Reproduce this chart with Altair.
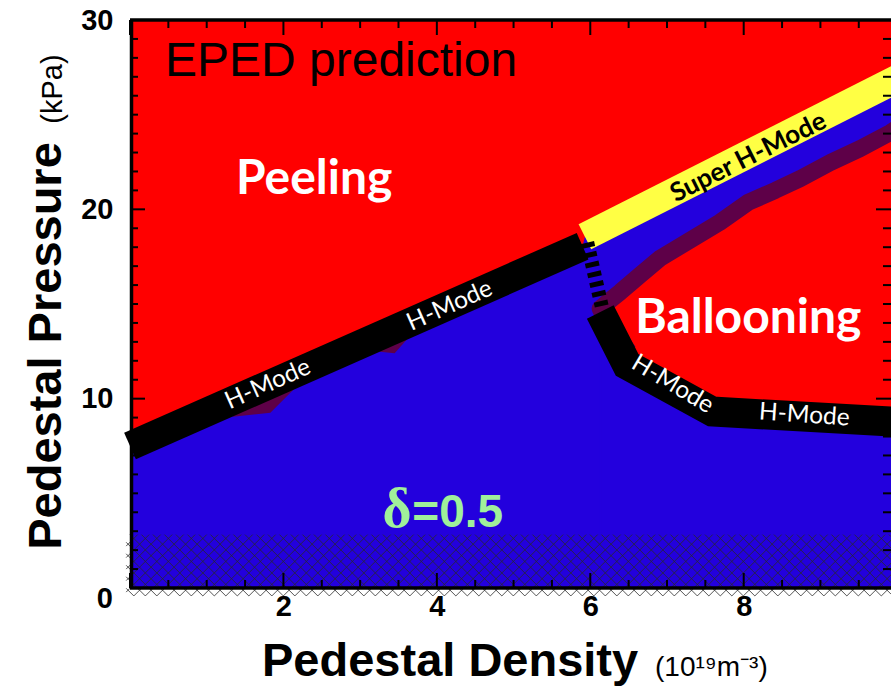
import altair as alt
import pandas as pd
import numpy as np

# ---------------- data ----------------
# left H-mode boundary (peeling limit), density vs pressure
hm_left_x = [0.0, 5.9]
hm_left_y = [7.5, 18.05]
# Super H-mode band
super_x = [5.93, 10.2]
super_y = [18.55, 27.3]
# right H-mode boundary (ballooning limit)
hm_right_x = [6.13, 6.48, 7.59, 9.92, 10.2]
hm_right_y = [14.58, 11.79, 9.32, 8.79, 8.73]
# dashed connection
dash_x = [5.96, 6.15]
dash_y = [18.24, 14.86]
# ballooning boundary (dark purple band)
purple_x = [6.50, 6.21, 6.13, 6.26, 6.39, 6.65, 6.91, 7.30, 7.69, 8.06, 8.41, 8.74, 9.13, 9.52, 9.91, 10.2]
purple_y = [12.49, 14.07, 14.75, 15.21, 15.63, 16.53, 17.42, 18.37, 19.32, 20.37, 21.0, 21.63, 22.47, 23.21, 24.05, 24.8]
# small purple bumps under left H-mode line
bump_g = ["a", "a", "a", "b", "b", "b"]
bump_x = [1.34, 1.83, 2.13, 3.26, 3.45, 3.60]
bump_lo = [9.05, 9.26, 10.47, 12.48, 12.40, 13.09]
bump_hi = [9.9, 10.8, 11.3, 13.3, 13.7, 13.9]
# hatched low-pressure band
hatch_lo, hatch_hi = -0.42, 2.82

# axis ticks / labels
x_major = [0, 2, 4, 6, 8]
x_labels = [2, 4, 6, 8]
x_minor = [0.5, 1, 1.5, 2.5, 3, 3.5, 4.5, 5, 5.5, 6.5, 7, 7.5, 8.5, 9, 9.5]
y_major = [0, 10, 20, 30]
y_labels = [10, 20, 30]
y_minor = [v for v in range(1, 30) if v % 10 != 0]

# text labels
hm_text = ["H-Mode", "H-Mode", "H-Mode", "H-Mode"]
hm_tx = [1.80, 4.17, 7.07, 8.79]
hm_ty = [10.74, 14.89, 10.74, 9.11]
hm_ang = [336, 336, 31, 4]

# ---------------- geometry / styles ----------------
W, H = 761, 568
XMAX = 9.92
kx, ky = W / XMAX, H / 30.0
RED, BLUE, PURPLE, YELLOW = "#FF0000", "#2300DD", "#5E0048", "#FFFF44"

xs = alt.Scale(domain=[0, XMAX], nice=False, zero=False)
ys = alt.Scale(domain=[0, 30], nice=False, zero=False)
xaxis = alt.Axis(values=x_labels, ticks=False, domain=False, grid=False, title=None,
                 labelFont="Liberation Sans", labelFontWeight="bold", labelFontSize=29,
                 labelColor="black", labelPadding=4)
yaxis = alt.Axis(values=y_labels, ticks=False, domain=False, grid=False, title=None,
                 labelFont="Liberation Sans", labelFontWeight="bold", labelFontSize=29,
                 labelColor="black", labelPadding=17)


def X(f, **kw):
    return alt.X(f, type="quantitative", scale=xs, axis=xaxis, **kw)


def Y(f, **kw):
    return alt.Y(f, type="quantitative", scale=ys, axis=yaxis, **kw)


def df_line(xv, yv):
    return pd.DataFrame({"x": xv, "y": yv, "i": range(len(xv)), "z": [0.0] * len(xv)})


layers = []

# blue stable region under the H-mode / super H-mode boundary
blue_a = df_line(hm_left_x + super_x, hm_left_y + super_y)
layers.append(alt.Chart(blue_a).mark_area(color=BLUE, clip=True, opacity=1).encode(
    x=X("x"), y=Y("y"), y2="z"))
# red ballooning region
layers.append(alt.Chart(df_line(purple_x[2:], purple_y[2:])).mark_area(
    color=RED, clip=True, opacity=1).encode(x=X("x"), y=Y("y"), y2="z"))
# blue region under right H-mode line
layers.append(alt.Chart(df_line(hm_right_x, hm_right_y)).mark_area(
    color=BLUE, stroke=BLUE, strokeWidth=2, clip=True, opacity=1).encode(
    x=X("x"), y=Y("y"), y2="z"))
# purple bumps
bumps = pd.DataFrame({"g": bump_g, "x": bump_x, "lo": bump_lo, "hi": bump_hi})
layers.append(alt.Chart(bumps).mark_area(color=PURPLE, opacity=1).encode(
    x=X("x"), y=Y("lo"), y2="hi", detail="g:N"))
# purple ballooning boundary band
layers.append(alt.Chart(df_line(purple_x, purple_y)).mark_line(
    color=PURPLE, strokeWidth=17, strokeJoin="round", clip=True).encode(
    x=X("x"), y=Y("y"), order="i:Q"))
# super H-mode yellow band
layers.append(alt.Chart(df_line(super_x, super_y)).mark_line(
    color=YELLOW, strokeWidth=28, strokeCap="butt", clip=True).encode(
    x=X("x"), y=Y("y"), order="i:Q"))
# H-mode black bands
layers.append(alt.Chart(df_line(hm_left_x, hm_left_y)).mark_line(
    color="black", strokeWidth=29, strokeCap="butt").encode(
    x=X("x"), y=Y("y"), order="i:Q"))
layers.append(alt.Chart(df_line(hm_right_x, hm_right_y)).mark_line(
    color="black", strokeWidth=30, strokeCap="butt", strokeJoin="miter", clip=True).encode(
    x=X("x"), y=Y("y"), order="i:Q"))
layers.append(alt.Chart(df_line(dash_x, dash_y)).mark_line(
    color="black", strokeWidth=14, strokeDash=[5, 5], strokeCap="butt").encode(
    x=X("x"), y=Y("y"), order="i:Q"))

# cross hatching of the low-pressure band (pattern: 45 deg lines in pixel space)
xa, xb = -0.05, XMAX
span = (hatch_hi - hatch_lo) * ky / kx  # x-shift over band height
step = 11.5 / kx
rows = []
c = xa - span
while c < xb + span:
    # family A: rising to the right
    x0, y0, x1, y1 = c, hatch_lo, c + span, hatch_hi
    if x0 < xa:
        y0 = hatch_lo + (xa - c) * kx / ky
        x0 = xa
    if x1 > xb:
        y1 = hatch_lo + (xb - c) * kx / ky
        x1 = xb
    if x1 > x0:
        rows.append({"x": x0, "y": y0, "x2": x1, "y2": y1})
    # family B: falling to the right
    x0, y0, x1, y1 = c, hatch_lo, c - span, hatch_hi
    if x0 > xb:
        y0 = hatch_lo + (x0 - xb) * kx / ky
        x0 = xb
    if x1 < xa:
        y1 = hatch_lo + (c - xa) * kx / ky
        x1 = xa
    if x0 > x1:
        rows.append({"x": x0, "y": y0, "x2": x1, "y2": y1})
    c += step
hatch = pd.DataFrame(rows)
layers.append(alt.Chart(hatch).mark_rule(color="#2a2a2a", strokeWidth=1, opacity=0.8).encode(
    x=X("x"), y=Y("y"), x2="x2", y2="y2"))


# text annotations
def txt(df, **mk):
    return alt.Chart(df).mark_text(**mk)


layers.append(txt(pd.DataFrame({"x": [0.456], "y": [27.05], "t": ["EPED prediction"]}),
                  font="Liberation Sans", fontSize=48, color="black", align="left",
                  baseline="alphabetic").encode(x=X("x"), y=Y("y"), text="t:N"))
layers.append(txt(pd.DataFrame({"x": [2.40], "y": [20.79], "t": ["Peeling"]}),
                  font="Lato", fontWeight="bold", fontSize=48, color="white", align="center",
                  baseline="alphabetic").encode(x=X("x"), y=Y("y"), text="t:N"))
layers.append(txt(pd.DataFrame({"x": [8.06], "y": [13.47], "t": ["Ballooning"]}),
                  font="Lato", fontWeight="bold", fontSize=48, color="white", align="center",
                  baseline="alphabetic").encode(x=X("x"), y=Y("y"), text="t:N"))
layers.append(txt(pd.DataFrame({"x": [8.06], "y": [22.74], "t": ["Super H-Mode"], "a": [333.5]}),
                  font="Lato", fontWeight="bold", fontSize=26, color="black", align="center",
                  baseline="middle").encode(x=X("x"), y=Y("y"), text="t:N",
                                            angle=alt.Angle("a:Q", scale=None)))
layers.append(txt(pd.DataFrame({"x": hm_tx, "y": hm_ty, "t": hm_text, "a": hm_ang}),
                  font="Lato", fontSize=24.5, color="white", align="center",
                  baseline="middle").encode(x=X("x"), y=Y("y"), text="t:N",
                                            angle=alt.Angle("a:Q", scale=None)))
layers.append(txt(pd.DataFrame({"x": [3.29], "y": [3.2], "t": ["δ"]}),
                  font="Liberation Serif", fontWeight="bold", fontSize=56, color="#A0F09A",
                  align="left", baseline="alphabetic").encode(x=X("x"), y=Y("y"), text="t:N"))
layers.append(txt(pd.DataFrame({"x": [3.68], "y": [3.2], "t": ["=0.5"]}),
                  font="Liberation Sans", fontWeight="bold", fontSize=46, color="#A0F09A",
                  align="left", baseline="alphabetic").encode(x=X("x"), y=Y("y"), text="t:N"))
# origin label "0"
layers.append(txt(pd.DataFrame({"x": [0], "y": [0], "t": ["0"]}),
                  font="Liberation Sans", fontWeight="bold", fontSize=29, color="black",
                  align="right", baseline="middle", dx=-17, dy=11).encode(
    x=X("x"), y=Y("y"), text="t:N"))

one = pd.DataFrame({"t": ["Pedestal Density", "(10¹⁹m⁻³)", "Pedestal Pressure", "(kPa)"]})
layers.append(alt.Chart(one.iloc[[0]]).mark_text(
    font="Liberation Sans", fontWeight="bold", fontSize=47, align="left", baseline="alphabetic",
    color="black").encode(x=alt.value(132), y=alt.value(656), text="t:N"))
layers.append(alt.Chart(one.iloc[[1]]).mark_text(
    font="Liberation Sans", fontSize=28, align="left", baseline="alphabetic",
    color="black").encode(x=alt.value(525), y=alt.value(656), text="t:N"))
layers.append(alt.Chart(one.iloc[[2]]).mark_text(
    font="Liberation Sans", fontWeight="bold", fontSize=47, align="center", baseline="alphabetic",
    color="black", angle=270).encode(x=alt.value(-69), y=alt.value(326), text="t:N"))
layers.append(alt.Chart(one.iloc[[3]]).mark_text(
    font="Liberation Sans", fontSize=29, align="center", baseline="alphabetic",
    color="black", angle=270).encode(x=alt.value(-68), y=alt.value(69), text="t:N"))

# frame (left, top, bottom)
fr = pd.DataFrame({"a": [0]})
layers.append(alt.Chart(fr).mark_rule(color="black", strokeWidth=3.5).encode(
    x=alt.value(1.5), y=alt.value(0), y2=alt.value(H)))
layers.append(alt.Chart(fr).mark_rule(color="black", strokeWidth=3.5).encode(
    x=alt.value(0), x2=alt.value(W), y=alt.value(0)))
layers.append(alt.Chart(fr).mark_rule(color="black", strokeWidth=3.5).encode(
    x=alt.value(0), x2=alt.value(W), y=alt.value(H)))

# inward ticks on all four sides
for vals, L in ((x_major, 15), (x_minor, 8)):
    d = pd.DataFrame({"v": vals})
    layers.append(alt.Chart(d).mark_rule(color="black", strokeWidth=2).encode(
        x=X("v"), y=alt.value(H), y2=alt.value(H - L)))
    layers.append(alt.Chart(d).mark_rule(color="black", strokeWidth=2).encode(
        x=X("v"), y=alt.value(0), y2=alt.value(L)))
for vals, L in ((y_major, 15), (y_minor, 8)):
    d = pd.DataFrame({"v": vals})
    layers.append(alt.Chart(d).mark_rule(color="black", strokeWidth=2).encode(
        y=Y("v"), x=alt.value(0), x2=alt.value(L)))
    layers.append(alt.Chart(d).mark_rule(color="black", strokeWidth=2).encode(
        y=Y("v"), x=alt.value(W), x2=alt.value(W - L)))

chart = alt.layer(*layers).properties(
    width=W, height=H,
    autosize=alt.AutoSizeParams(type="none"),
    padding={"left": 130, "top": 20, "right": 0, "bottom": 101},
    background="white",
).configure_view(stroke=None, fill=RED)

chart.save("out.html", embed_options={"renderer": "svg", "actions": False})
